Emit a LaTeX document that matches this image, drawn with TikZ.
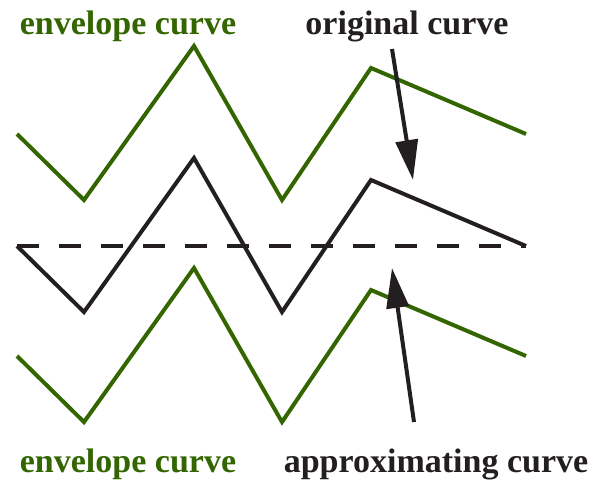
\documentclass[tikz,border=0pt]{standalone}
\usepackage{fontspec}
\setmainfont{Liberation Serif}
\usepackage{xcolor}
\usetikzlibrary{arrows.meta, positioning, calc}
\definecolor{envgreen}{RGB}{51,102,0}
\definecolor{curvegray}{RGB}{35,31,32}

\begin{document}
\begin{tikzpicture}[x=1pt, y=-1pt,
        env/.style={draw=envgreen, line width=4pt, line join=miter},
        orig/.style={draw=curvegray, line width=4pt, line join=miter},
        approx/.style={draw=curvegray, line width=4pt, dash pattern=on 22pt off 20pt},
        lbl/.style={font=\bfseries\fontsize{34}{40}\selectfont, anchor=base, inner sep=0pt},
        ptr/.style={-{Triangle[length=40pt, width=22pt]}, draw=curvegray, line width=4pt},
    ]
        \useasboundingbox (0,0) rectangle (591,482);
        % vertices of the three zigzags
        \foreach \n/\x/\y in {1/17/246, 2/84/312, 3/194/158, 4/282/312, 5/371/180, 6/526/246} {
            \coordinate (o\n) at (\x,\y);
            \coordinate (u\n) at (\x,\y-112);
            \coordinate (d\n) at (\x,\y+110);
        }
        \draw[env] (u1) -- (u2) -- (u3) -- (u4) -- (u5) -- (u6);
        \draw[orig] (o1) -- (o2) -- (o3) -- (o4) -- (o5) -- (o6);
        \draw[env] (d1) -- (d2) -- (d3) -- (d4) -- (d5) -- (d6);
        \draw[approx] (o1) -- (o6);

        \node[lbl, text=envgreen] (envtop) at (128,34) {envelope curve};
        \node[lbl, text=curvegray] (origlbl) at (407,34) {original curve};
        \node[lbl, text=envgreen] (envbot) at (128,472) {envelope curve};
        \node[lbl, text=curvegray] (approxlbl) at (436,472) {approximating curve};

        \coordinate (otail) at (392,49);
        \coordinate (otip) at (413,180);
        \coordinate (atail) at (414,422);
        \coordinate (atip) at (392,268);
        \draw[ptr] (otail) -- (otip);
        \draw[ptr] (atail) -- (atip);
\end{tikzpicture}
\end{document}
